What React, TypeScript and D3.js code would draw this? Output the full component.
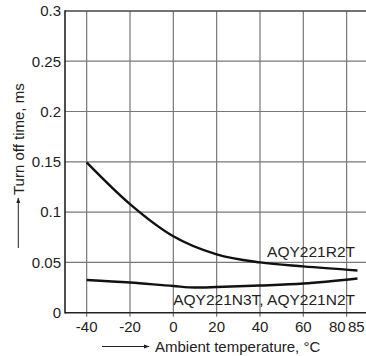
import React from 'react';
import * as d3 from 'd3';

const temps = [-40, -20, 0, 20, 40, 60, 85];
const r2t = [0.1495, 0.108, 0.076, 0.058, 0.05, 0.046, 0.042];
const nTemps = [-40, -20, 0, 10, 20, 40, 60, 85];
const n3t = [0.0325, 0.03, 0.0265, 0.025, 0.0255, 0.027, 0.029, 0.034];
const xTicks = [-40, -20, 0, 20, 40, 60, 80];
const yTicks = [0, 0.05, 0.1, 0.15, 0.2, 0.25, 0.3];

const W = 366;
const H = 356;
const font = '"Liberation Sans", Arial, sans-serif';

function App() {
  const x = d3.scaleLinear().domain([-50, 90]).range([65, 368.3]);
  const y = d3.scaleLinear().domain([0, 0.3]).range([312.7, 10.9]);

  const line = d3.line<[number, number]>()
    .x(d => x(d[0]))
    .y(d => y(d[1]))
    .curve(d3.curveMonotoneX);

  const r2tPath = line(temps.map((t, i) => [t, r2t[i]]));
  const n3tPath = line(nTemps.map((t, i) => [t, n3t[i]]));

  const y0 = y(0);

  return (
    <div style={{position: 'absolute', left: 0, top: 0}}>
      <svg width={W} height={H} style={{display: 'block', background: '#fff'}}>
        <defs>
          <marker id="arr" viewBox="0 0 10 10" refX="9" refY="5" markerWidth="6" markerHeight="6" orient="auto">
            <path d="M0,1.5 L10,5 L0,8.5 z" fill="#222"/>
          </marker>
        </defs>
        {/* grid */}
        {xTicks.map(t => (
          <line key={'vx' + t} x1={x(t)} x2={x(t)} y1={y(0.3)} y2={y0 + 4} stroke="#777" strokeWidth={1.2}/>
        ))}
        {yTicks.slice(1, -1).map(t => (
          <line key={'hy' + t} x1={x(-50)} x2={W} y1={y(t)} y2={y(t)} stroke="#777" strokeWidth={1.2}/>
        ))}
        <line x1={x(-50)} x2={W} y1={y(0.3)} y2={y(0.3)} stroke="#444" strokeWidth={1.5}/>
        {/* axes */}
        <line x1={x(-50)} x2={W} y1={y0} y2={y0} stroke="#222" strokeWidth={1.6}/>
        <line x1={x(-50)} x2={x(-50)} y1={y(0.3) - 0.7} y2={y0 + 0.8} stroke="#222" strokeWidth={1.6}/>
        {/* y tick labels */}
        {yTicks.map(t => (
          <text key={'yl' + t} x={61} y={y(t) + 5.3} textAnchor="end" fontFamily={font} fontSize={15} fill="#222">
            {t === 0 ? '0' : String(t)}
          </text>
        ))}
        {/* x tick labels */}
        {xTicks.map(t => (
          <text key={'xl' + t} x={t === 80 ? x(t) - 1 : x(t)} y={331.5} textAnchor={t === 80 ? 'end' : 'middle'} fontFamily={font} fontSize={15} fill="#222">
            {t}
          </text>
        ))}
        <text x={x(85) - 9.5} y={331.5} textAnchor="start" fontFamily={font} fontSize={15} fill="#222">85</text>
        {/* curves */}
        <path d={r2tPath || ''} fill="none" stroke="#111" strokeWidth={2.4}/>
        <path d={n3tPath || ''} fill="none" stroke="#111" strokeWidth={2.4}/>
        <text x={355} y={257} textAnchor="end" fontFamily={font} fontSize={15.5} fill="#222">AQY221R2T</text>
        <text x={355} y={305} textAnchor="end" fontFamily={font} fontSize={15.5} fill="#222">AQY221N3T, AQY221N2T</text>
        {/* x axis title */}
        <line x1={102} x2={149} y1={346.5} y2={346.5} stroke="#222" strokeWidth={1} markerEnd="url(#arr)"/>
        <text x={155} y={351.5} fontFamily={font} fontSize={15} fill="#222">Ambient temperature, °C</text>
        {/* y axis title */}
        <line x1={18.3} x2={18.3} y1={248} y2={198} stroke="#222" strokeWidth={1} markerEnd="url(#arr)"/>
        <text transform="translate(23.5,195) rotate(-90)" fontFamily={font} fontSize={15} fill="#222">Turn off time, ms</text>
      </svg>
    </div>
  );
}

export default App;
